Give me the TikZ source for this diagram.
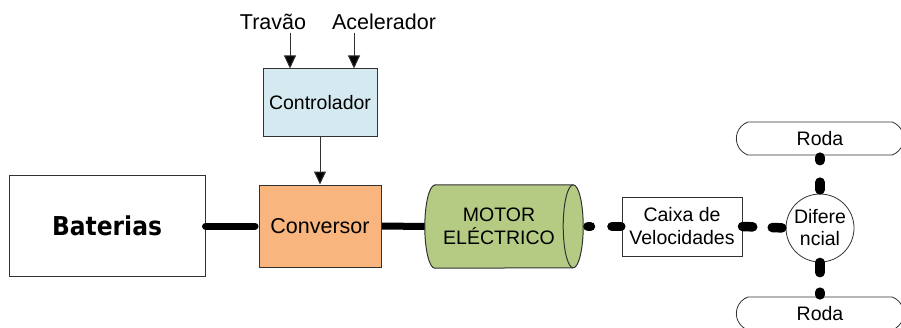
\documentclass[tikz,border=0pt]{standalone}
\usepackage{fontspec}
\setmainfont{Liberation Sans}
\newfontfamily\batfont[FakeStretch=0.9]{DejaVu Sans}
\usetikzlibrary{arrows.meta,shapes.misc,backgrounds}
\definecolor{convfill}{RGB}{248,181,126}
\definecolor{ctrlfill}{RGB}{212,234,240}
\definecolor{motfill}{RGB}{181,203,132}
\definecolor{edgec}{RGB}{50,50,50}
\begin{document}
\begin{tikzpicture}[x=1pt,y=1pt,
  box/.style={draw=edgec, line width=1pt, inner sep=0pt, align=center},
  ftext/.style={font=\fontsize{19.5}{23}\selectfont},
  fbig/.style={font=\fontsize{21.5}{26}\selectfont},
  arr/.style={draw=edgec, line width=1pt, -{Triangle[width=12pt,length=13pt,fill=black]}},
  sconn/.style={line width=7pt},
  dconn/.style={line width=9.5pt, line cap=round}]
\clip (0,0) rectangle (901,327);
\useasboundingbox (0,0) rectangle (901,327);
% nodes
\node[box, fill=white, minimum width=196pt, minimum height=101pt,
      font=\batfont\bfseries\fontsize{26}{30}\selectfont] (bat) at (107,101) {Baterias};
\node[box, fill=convfill, minimum width=122pt, minimum height=82pt, fbig] (conv) at (320,101) {Conversor};
\node[box, fill=ctrlfill, minimum width=114pt, minimum height=68pt, ftext] (ctrl) at (320,224) {Controlador};
\node[fbig, inner sep=0pt] (trav) at (273,305) {Travão};
\node[fbig, inner sep=0pt] (acel) at (384,305) {Acelerador};
\coordinate (t1) at (290,294);
\coordinate (a1) at (354,294);
\node[minimum width=158pt, minimum height=83pt, inner sep=0pt] (mot) at (504,100.5) {};
\node[box, fill=white, minimum width=120pt, minimum height=59pt, ftext] (cx) at (682,100.5) {Caixa de\\Velocidades};
\node[circle, draw=edgec, line width=0.8pt, fill=white, minimum size=68pt, inner sep=0pt,
      align=center, font=\fontsize{19.5}{22}\selectfont] (dif) at (820,99) {Difere\\ncial};
\node[rounded rectangle, rounded rectangle arc length=140, draw=edgec, line width=0.8pt, fill=white,
      minimum width=174pt, minimum height=33pt, ftext] (rt) at (820,188.5) {Roda};
\node[rounded rectangle, rounded rectangle arc length=140, draw=edgec, line width=0.8pt, fill=white,
      minimum width=174pt, minimum height=33pt, ftext] (rb) at (820,13.5) {Roda};
% motor cylinder
\begin{pgfonlayer}{background}
\draw[sconn] (conv.east) -- (mot.west);
\end{pgfonlayer}
\filldraw[draw=edgec, line width=1pt, fill=motfill]
  ([xshift=10pt]mot.north west) -- ([xshift=-10pt]mot.north east)
  arc[start angle=90, end angle=-90, x radius=10pt, y radius=41.5pt]
  -- ([xshift=10pt]mot.south west)
  arc[start angle=270, end angle=90, x radius=10pt, y radius=41.5pt] -- cycle;
\draw[edgec, line width=1pt] ([xshift=-10pt]mot.north east)
  arc[start angle=90, end angle=270, x radius=10pt, y radius=41.5pt];
\node[ftext, align=center, inner sep=0pt] (motlbl) at ([xshift=-5pt]mot.center) {MOTOR\\ELÉCTRICO};
% arrows
\draw[arr] (t1) -- (t1 |- ctrl.north);
\draw[arr] (a1) -- (a1 |- ctrl.north);
\draw[arr] (ctrl.south) -- (conv.north);
% thick connectors
\draw[sconn, line cap=round, shorten >=3.5pt] (bat.east) -- (conv.west);
\draw[dconn, shorten <=4.75pt, shorten >=0.75pt, dash pattern=on 2.5pt off 21.5pt on 9.5pt off 100pt] (mot.east) -- (cx.west);
\draw[dconn, shorten >=3.75pt, dash pattern=on 10.25pt off 19.5pt on 10.5pt off 100pt] (cx.east) -- (dif.west);
\draw[dconn, shorten <=1.75pt, shorten >=3.75pt, dash pattern=on 3.5pt off 21.5pt on 8.5pt off 100pt] (rt.south) -- (dif.north);
\draw[dconn, shorten >=1.75pt, dash pattern=on 10.25pt off 19.5pt on 3.5pt off 100pt] (dif.south) -- (rb.north);
\end{tikzpicture}
\end{document}
